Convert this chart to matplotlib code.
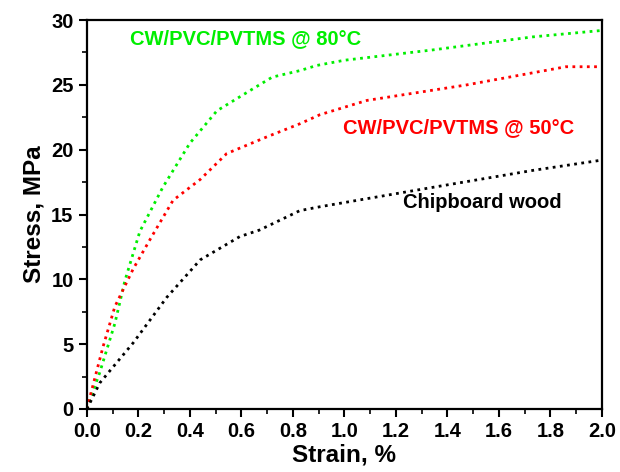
import matplotlib
matplotlib.use("Agg")
from matplotlib import pyplot as plt
from matplotlib.ticker import MultipleLocator

plt.rcParams['font.family'] = ['Liberation Sans', 'DejaVu Sans']
plt.rcParams['font.weight'] = 'bold'

# curves
strain_80 = [0.0, 0.05, 0.109, 0.148, 0.206, 0.295, 0.40, 0.505, 0.645, 0.72, 0.827, 0.893, 1.0, 1.344, 1.73, 2.0]
stress_80 = [0.0, 2.8, 6.6, 9.9, 13.7, 17.1, 20.5, 23.0, 24.7, 25.6, 26.1, 26.5, 26.9, 27.7, 28.7, 29.2]

strain_50 = [0.0, 0.063, 0.109, 0.18, 0.252, 0.335, 0.44, 0.543, 0.70, 0.827, 0.905, 1.087, 1.475, 1.86, 2.0]
stress_50 = [0.0, 4.8, 7.9, 10.8, 13.3, 16.1, 17.7, 19.7, 21.0, 22.0, 22.7, 23.8, 25.0, 26.4, 26.4]

strain_cw = [0.0, 0.012, 0.05, 0.18, 0.31, 0.44, 0.594, 0.67, 0.827, 0.905, 1.344, 1.73, 2.0]
stress_cw = [0.0, 0.46, 2.0, 5.1, 8.6, 11.5, 13.3, 13.8, 15.3, 15.6, 17.1, 18.4, 19.2]

fig = plt.figure(figsize=(6.2, 4.72), dpi=100)
ax = fig.add_axes([0.140, 0.1335, 0.831, 0.824])

dots = (0, (1, 1.6))
ax.plot(strain_80, stress_80, color='#00ee00', lw=2, ls=dots)
ax.plot(strain_50, stress_50, color='#ff0000', lw=2, ls=dots)
ax.plot(strain_cw, stress_cw, color='black', lw=2, ls=dots)

ax.text(0.167, 28.6, 'CW/PVC/PVTMS @ 80°C', color='#00ee00', fontsize=14.5, fontweight='bold', va='center')
ax.text(0.994, 21.7, 'CW/PVC/PVTMS @ 50°C', color='#ff0000', fontsize=14.5, fontweight='bold', va='center')
ax.text(1.227, 15.9, 'Chipboard wood', color='black', fontsize=14.5, fontweight='bold', va='center')

ax.set_xlim(0, 2.0)
ax.set_ylim(0, 30)
ax.xaxis.set_major_locator(MultipleLocator(0.2))
ax.xaxis.set_minor_locator(MultipleLocator(0.1))
ax.yaxis.set_major_locator(MultipleLocator(5))
ax.yaxis.set_minor_locator(MultipleLocator(2.5))
ax.xaxis.set_major_formatter(plt.FuncFormatter(lambda v, p: f"{v:.1f}"))

for s in ax.spines.values():
    s.set_linewidth(1.6)
ax.tick_params(which='major', direction='out', length=6, width=1.5, labelsize=14.5)
ax.tick_params(which='minor', direction='out', length=3.5, width=1.2)
for lab in ax.get_xticklabels() + ax.get_yticklabels():
    lab.set_fontweight('bold')

ax.set_xlabel('Strain, %', fontsize=17.5, fontweight='bold', labelpad=2)
ax.set_ylabel('Stress, MPa', fontsize=17.5, fontweight='bold', labelpad=4)

fig.savefig('out.png', dpi=100)
